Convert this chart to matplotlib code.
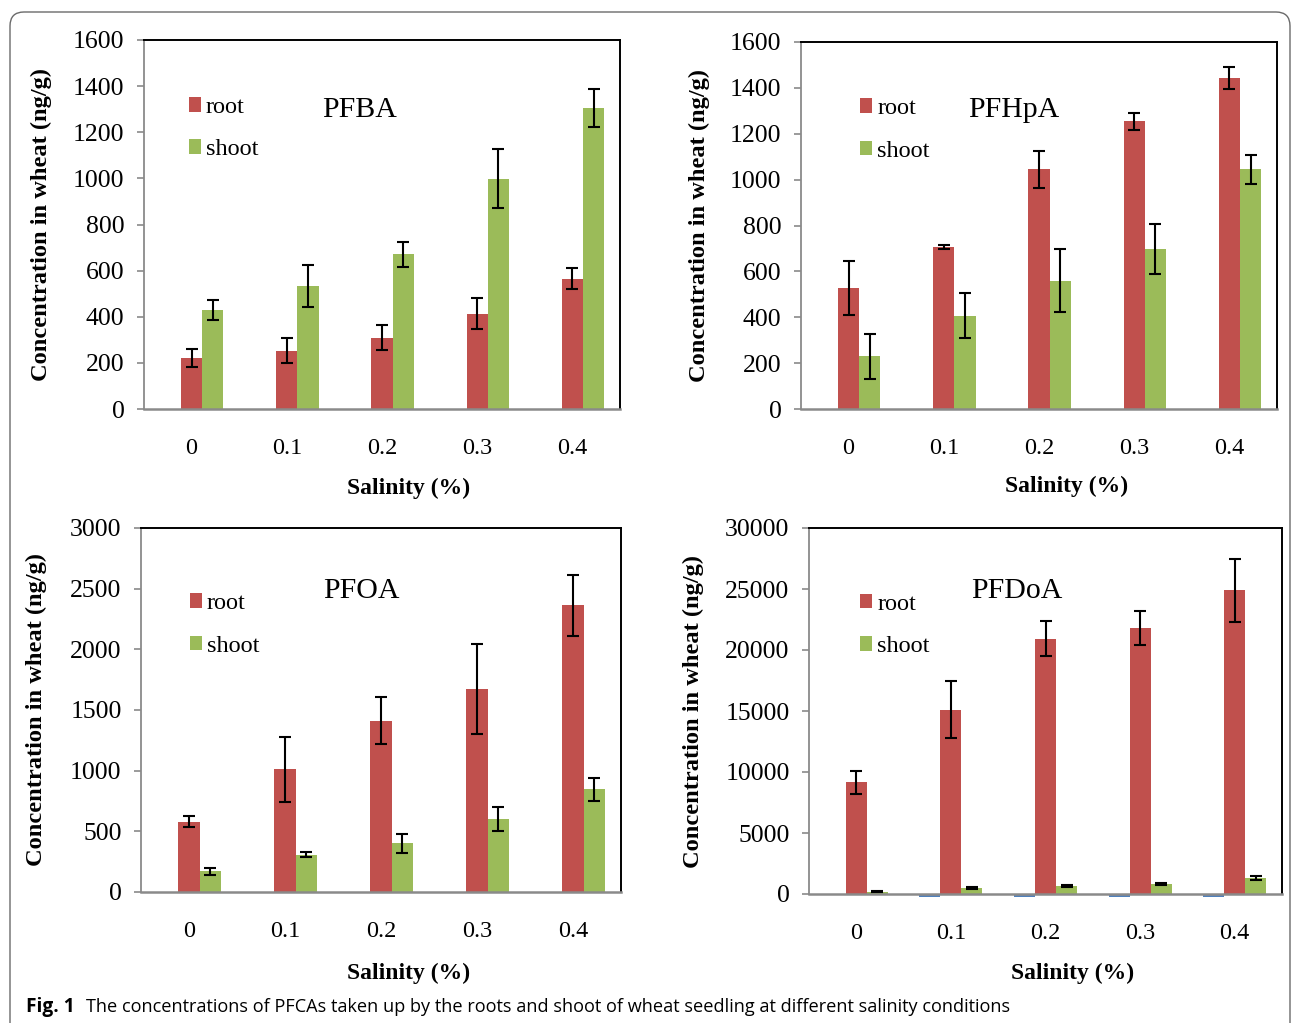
"""
Uptake of PFCAs by wheat roots and shoots at different salinity levels.
"""

import matplotlib.pyplot as plt
from matplotlib.patches import FancyBboxPatch
from matplotlib.transforms import IdentityTransform

salinity = ["0", "0.1", "0.2", "0.3", "0.4"]

# PFBA
pfba_blank = [0, 0, 0, 0, 0]
pfba_root = [220, 253, 309, 413, 565]
pfba_root_err = [40, 55, 55, 68, 45]
pfba_shoot = [429, 534, 670, 999, 1305]
pfba_shoot_err = [44, 92, 56, 128, 82]

# PFHpA
pfhpa_blank = [0, 0, 0, 0, 0]
pfhpa_root = [528, 706, 1045, 1254, 1442]
pfhpa_root_err = [118, 8, 80, 38, 48]
pfhpa_shoot = [229, 407, 559, 698, 1045]
pfhpa_shoot_err = [97, 97, 138, 110, 62]

# PFOA
pfoa_blank = [0, 0, 0, 0, 0]
pfoa_root = [581, 1013, 1412, 1671, 2362]
pfoa_root_err = [47, 268, 195, 370, 253]
pfoa_shoot = [171, 308, 402, 600, 845]
pfoa_shoot_err = [28, 22, 80, 100, 94]

# PFDoA
pfdoa_blank = [0, -250, -250, -250, -250]
pfdoa_root = [9161, 15122, 20919, 21821, 24884]
pfdoa_root_err = [930, 2370, 1450, 1380, 2600]
pfdoa_shoot = [190, 490, 656, 820, 1285]
pfdoa_shoot_err = [60, 100, 100, 50, 170]

panels = [
    ("PFBA", pfba_blank, pfba_root, pfba_root_err, pfba_shoot, pfba_shoot_err, 1600, 200),
    ("PFHpA", pfhpa_blank, pfhpa_root, pfhpa_root_err, pfhpa_shoot, pfhpa_shoot_err, 1600, 200),
    ("PFOA", pfoa_blank, pfoa_root, pfoa_root_err, pfoa_shoot, pfoa_shoot_err, 3000, 500),
    ("PFDoA", pfdoa_blank, pfdoa_root, pfdoa_root_err, pfdoa_shoot, pfdoa_shoot_err, 30000, 5000),
]

# layout (pixel boxes: left, top, right, bottom) and text anchors in axes fraction
boxes = [(144, 40, 620, 409), (801, 42, 1277, 409), (141, 528, 621, 892), (809, 528, 1282, 894)]
legend_pos = [(0.0945, 0.760), (0.124, 0.760), (0.102, 0.734), (0.108, 0.734)]
title_pos = [(0.452, 0.810), (0.447, 0.815), (0.460, 0.827), (0.440, 0.828)]
xlabel_pos = [(0.555, -0.214), (0.557, -0.210), (0.558, -0.223), (0.558, -0.216)]
ylabel_x = [-0.216, -0.214, -0.217, -0.245]

RED = "#C0504D"
GREEN = "#9BBB59"
BLUE = "#4F81BD"
AXGRAY = "#8A8A8A"
SERIF = ["Liberation Serif", "DejaVu Serif"]

W, H = 1292, 1023
fig = plt.figure(figsize=(W / 100, H / 100), dpi=100)

x = list(range(len(salinity)))
w = 1 / 4.5

for i, (name, blank, root, root_err, shoot, shoot_err, ymax, step) in enumerate(panels):
    l, t, r, b = boxes[i]
    ax = fig.add_axes([l / W, 1 - b / H, (r - l) / W, (b - t) / H])

    ax.bar([v - w for v in x], blank, w, color=BLUE, clip_on=False, zorder=1)
    bars_root = ax.bar(x, root, w, color=RED, label="root", zorder=2)
    bars_shoot = ax.bar([v + w for v in x], shoot, w, color=GREEN, label="shoot", zorder=2)
    ax.errorbar(x, root, yerr=root_err, fmt="none", ecolor="black",
                elinewidth=1.5, capsize=4, capthick=1.5, zorder=3)
    ax.errorbar([v + w for v in x], shoot, yerr=shoot_err, fmt="none", ecolor="black",
                elinewidth=1.5, capsize=4, capthick=1.5, zorder=3)

    ax.set_xlim(-0.5, len(salinity) - 0.5)
    ax.set_ylim(0, ymax)
    ax.set_yticks(range(0, ymax + 1, step))
    ax.set_xticks(x)
    ax.set_xticklabels(salinity)

    for lab in ax.get_xticklabels():
        lab.set_fontfamily(SERIF)
        lab.set_fontsize(17.5)
    for lab in ax.get_yticklabels():
        lab.set_fontfamily(SERIF)
        lab.set_fontsize(18.5)
    ax.tick_params(axis="x", length=0, pad=21)
    ax.tick_params(axis="y", length=5, width=1.2, color=AXGRAY, pad=9)

    ax.spines["left"].set_color(AXGRAY)
    ax.spines["left"].set_linewidth(1.3)
    ax.spines["bottom"].set_color(AXGRAY)
    ax.spines["bottom"].set_linewidth(1.8)
    for s in ("top", "right"):
        ax.spines[s].set_color("black")
        ax.spines[s].set_linewidth(1.4)

    ax.legend(handles=[bars_root, bars_shoot], loc="center left",
              bbox_to_anchor=legend_pos[i], frameon=False, borderpad=0,
              borderaxespad=0, handlelength=0.5, handleheight=0.55,
              handletextpad=0.2, labelspacing=0.88,
              prop={"family": SERIF, "size": 17.5})

    ax.text(title_pos[i][0], title_pos[i][1], name, transform=ax.transAxes,
            ha="center", va="center", fontsize=21.5, family=SERIF)
    ax.text(xlabel_pos[i][0], xlabel_pos[i][1], "Salinity (%)", transform=ax.transAxes,
            ha="center", va="center", fontsize=17, fontweight="bold", family=SERIF)
    ax.text(ylabel_x[i], 0.5, "Concentration in wheat (ng/g)", transform=ax.transAxes,
            ha="center", va="center", rotation=90, fontsize=17.6, fontweight="bold",
            family=SERIF)

# outer frame, open at the bottom like the journal figure box
frame = FancyBboxPatch((10, -60), 1280, H - 12 + 60, boxstyle="round,pad=0,rounding_size=14",
                       transform=IdentityTransform(), fill=False, edgecolor="#6A6A6A",
                       linewidth=1.0)
fig.add_artist(frame)

fig.text(26 / W, 1 - 1007 / H, "Fig. 1", fontsize=13.8, fontweight="bold",
         family=["Open Sans", "DejaVu Sans"], va="center", ha="left")
fig.text(86 / W, 1 - 1007 / H,
         "The concentrations of PFCAs taken up by the roots and shoot of wheat seedling "
         "at different salinity conditions",
         fontsize=13.1, family=["Open Sans", "DejaVu Sans"], va="center", ha="left")

fig.savefig("out.png", dpi=100)
